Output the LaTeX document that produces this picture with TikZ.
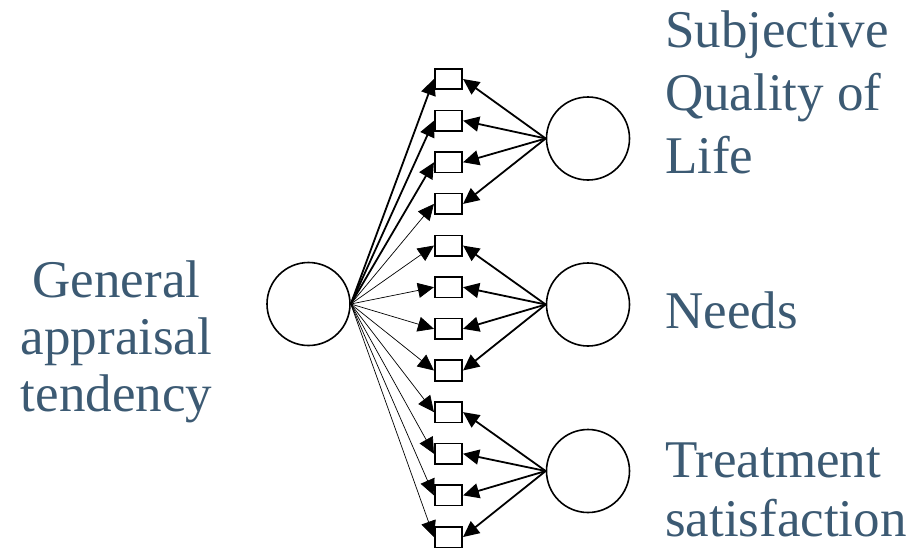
\documentclass[tikz,border=0pt]{standalone}
\usepackage{fontspec}
\setmainfont{Liberation Serif}
\usetikzlibrary{arrows.meta}
\definecolor{textblue}{HTML}{3C5A73}

\begin{document}
\begin{tikzpicture}[x=1pt, y=-1pt,
    item/.style={rectangle, draw, line width=1.6pt, minimum width=27.5pt, minimum height=20.5pt, inner sep=0pt},
    factor/.style={circle, draw, line width=1.6pt, minimum size=83pt, inner sep=0pt},
    factortext/.style={text=textblue, inner sep=0pt},
    load/.style={-{Triangle[length=16pt, width=15pt]}},
    heavy/.style={line width=1.8pt},
    light/.style={line width=0.7pt}]

         \useasboundingbox (0,0) rectangle (924,550);

         \node [factor] (general) at (308.5,304)   {};
         \node [factor] (sqol)    at (588,138.5)   {};
         \node [factor] (needs)   at (588,304.5)   {};
         \node [factor] (treat)   at (588,471)     {};

         \foreach \i in {1,...,12}
             \node [item] (y\i) at (448.5,{79+41.64*(\i-1)}) {};

         \node [factortext, anchor=north, align=center, font=\fontsize{53}{57}\selectfont] (generaltext) at (116.5,261) {General\\appraisal\\tendency};
         \node [factortext, anchor=north west, align=left, font=\fontsize{53}{63}\selectfont] (sqoltext) at (665,11) {Subjective\\Quality of\\Life};
         \node [factortext, anchor=north west, align=left, font=\fontsize{53}{57}\selectfont] (needstext) at (665,292) {Needs};
         \node [factortext, anchor=north west, align=left, font=\fontsize{53}{59}\selectfont] (treattext) at (665,443) {Treatment\\satisfaction};

         % general factor
         \foreach \i in {1,2,3}
             \draw [load, heavy] (general.east) -- (y\i.west);
         \foreach \i in {4,...,12}
             \draw [load, light] (general.east) -- (y\i.west);

         % specific factors
         \foreach \i in {1,...,4}
             \draw [load, heavy] (sqol.west) -- (y\i.east);
         \foreach \i in {5,...,8}
             \draw [load, heavy] (needs.west) -- (y\i.east);
         \foreach \i in {9,...,12}
             \draw [load, heavy] (treat.west) -- (y\i.east);

\end{tikzpicture}
\end{document}
